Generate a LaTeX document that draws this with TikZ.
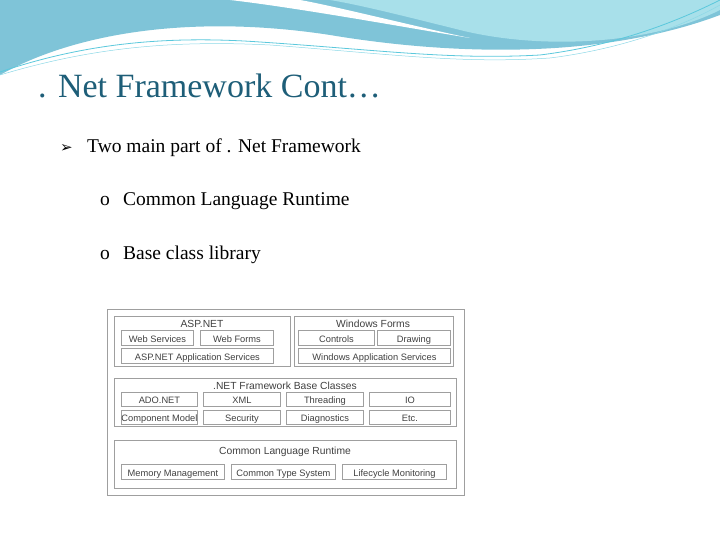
\documentclass[tikz,border=0pt]{standalone}
\usepackage{fontspec}
\setmainfont{Liberation Serif}
\newfontfamily\diagfont{Liberation Sans}
\newfontfamily\symfont{DejaVu Sans}
\definecolor{titleteal}{HTML}{1E5E78}
\definecolor{waveA}{HTML}{7FC4D8}
\definecolor{waveB}{HTML}{A8E0EA}
\definecolor{waveC}{HTML}{5BC8DC}
\tikzset{
  part/.style={draw=gray!75, line width=0.9pt, inner sep=0pt, text height=8.5pt, text depth=0pt, font=\diagfont\fontsize{9.3}{10}\selectfont, text=black!75},
  group/.style={draw=gray!75, line width=0.9pt, inner sep=0pt},
  grouptitle/.style={font=\diagfont\fontsize{10.3}{11}\selectfont, text=black!75, inner sep=0pt},
  bullet/.style={anchor=base west, font=\fontsize{19.5}{22}\selectfont, inner sep=0pt},
}
\newcommand{\partbox}[5]{% name, x1, y1, x2, y2, then the text
  \node[part, minimum width=#4-#2, minimum height=#5-#3, anchor=north west] (#1) at (#2,#3)}
\begin{document}
\begin{tikzpicture}[x=1pt, y=-1pt]
\useasboundingbox (0,0) rectangle (720,540);
% background waves
\fill[waveA] (0,0) -- (720,0) -- (720,15) .. controls (600,60) and (450,55) .. (330,35) .. controls (200,15) and (80,30) .. (0,75) -- cycle;
\fill[waveB] (330,0) -- (720,0) -- (720,10) .. controls (650,45) and (540,50) .. (460,30) .. controls (400,15) and (360,5) .. (330,0) -- cycle;
\fill[white] (230,0) .. controls (300,8) and (420,30) .. (470,38) .. controls (430,30) and (330,5) .. (300,0) -- cycle;
\draw[waveC, line width=0.8pt] (0,72) .. controls (80,45) and (160,35) .. (260,42) .. controls (380,50) and (450,60) .. (540,55) .. controls (620,45) and (680,20) .. (720,0);
\draw[waveC!70, line width=0.5pt] (0,75) .. controls (90,48) and (170,40) .. (270,45) .. controls (390,54) and (460,64) .. (550,58) .. controls (630,48) and (690,22) .. (720,5);
% texts
\node[anchor=base west, text=titleteal, font=\fontsize{34}{40}\selectfont, inner sep=0pt] (title) at (38,98) {. Net Framework Cont\ldots};
\node[anchor=base west, font=\symfont\fontsize{15}{17}\selectfont, inner sep=0pt] (b1) at (60,153) {➢};
\node[bullet] (t1) at (87,153) {Two main part of . Net Framework};
\node[bullet] (b2) at (100,206) {o};
\node[bullet] (t2) at (123,206) {Common Language Runtime};
\node[bullet] (b3) at (100,259) {o};
\node[bullet] (t3) at (123,259) {Base class library};
% diagram
\draw[group] (107,309) rectangle (464,495);
% ASP.NET
\draw[group] (114,316) rectangle (290,366);
\node[grouptitle] (asp) at (202,324) {ASP.NET};
\partbox{websrv}{121}{330}{193}{345} {Web Services};
\partbox{webforms}{200}{330}{273}{345} {Web Forms};
\partbox{aspapp}{121}{348}{273}{363} {ASP.NET Application Services};
% Windows Forms
\draw[group] (294,316) rectangle (453,366);
\node[grouptitle] (winforms) at (373,324) {Windows Forms};
\partbox{controls}{298}{330}{374}{345} {Controls};
\partbox{drawing}{377}{330}{450}{345} {Drawing};
\partbox{winapp}{298}{348}{450}{363} {Windows Application Services};
% base classes
\draw[group] (114,378) rectangle (456,426);
\node[grouptitle] (fbc) at (285,386) {.NET Framework Base Classes};
\partbox{ado}{121}{392}{197}{406} {ADO.NET};
\partbox{xml}{203}{392}{280}{406} {XML};
\partbox{thread}{286}{392}{363}{406} {Threading};
\partbox{io}{369}{392}{450}{406} {IO};
\partbox{compmodel}{121}{410}{197}{424} {Component Model};
\partbox{security}{203}{410}{280}{424} {Security};
\partbox{diag}{286}{410}{363}{424} {Diagnostics};
\partbox{etc}{369}{410}{450}{424} {Etc.};
% CLR
\draw[group] (114,440) rectangle (456,488);
\node[grouptitle] (clr) at (285,452) {Common Language Runtime};
\partbox{memory}{121}{464}{224}{479} {Memory Management};
\partbox{cts}{231}{464}{335}{479} {Common Type System};
\partbox{lifecycle}{342}{464}{446}{479} {Lifecycle Monitoring};
\end{tikzpicture}
\end{document}
